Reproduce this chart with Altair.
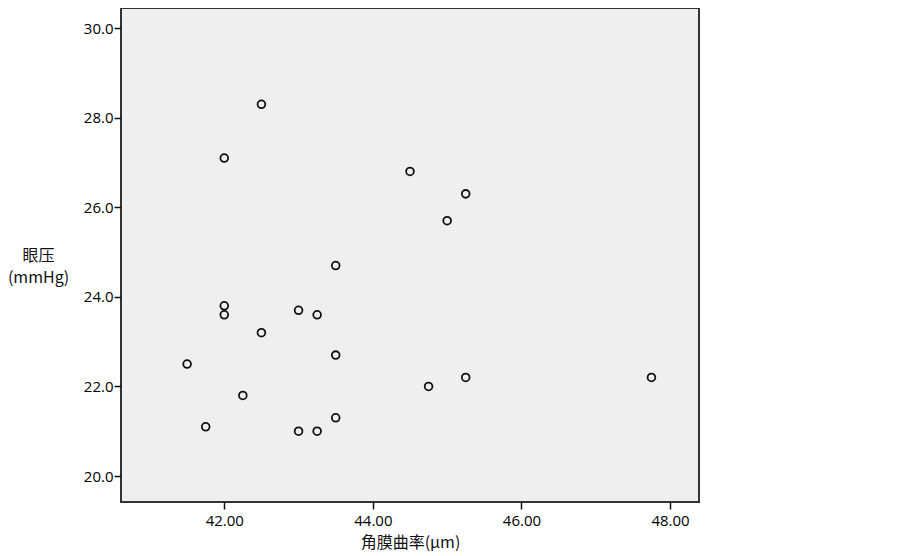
import altair as alt
import pandas as pd

curvature = [42.5, 42.0, 44.5, 45.25, 45.0, 43.5, 42.0, 42.0, 43.0, 43.25, 42.5,
             41.5, 43.5, 45.25, 47.75, 44.75, 42.25, 41.75, 43.0, 43.25, 43.5]
iop = [28.3, 27.1, 26.8, 26.3, 25.7, 24.7, 23.8, 23.6, 23.7, 23.6, 23.2,
       22.5, 22.7, 22.2, 22.2, 22.0, 21.8, 21.1, 21.0, 21.0, 21.3]
x_ticks = [42, 44, 46, 48]
y_ticks = [20, 22, 24, 26, 28, 30]

df = pd.DataFrame({"curv": curvature, "iop": iop})

chart = alt.Chart(df).mark_point(
    shape="circle", filled=False, color="#111111", strokeWidth=1.8, size=60, opacity=1
).encode(
    x=alt.X("curv:Q",
            scale=alt.Scale(domain=[40.61, 48.39], nice=False, zero=False),
            axis=alt.Axis(title="角膜曲率(μm)", values=x_ticks, format=".2f",
                          grid=False, domain=False, tickColor="#111111", tickSize=7,
                          tickWidth=1.5, labelPadding=4, labelFontSize=15,
                          labelFont="Open Sans", labelColor="#000000",
                          titleFont="Noto Sans CJK SC", titleFontSize=16,
                          titleFontWeight="normal", titleColor="#111111",
                          titlePadding=6)),
    y=alt.Y("iop:Q",
            scale=alt.Scale(domain=[19.42, 30.45], nice=False, zero=False),
            axis=alt.Axis(title=["眼压", "(mmHg)"], values=y_ticks, format=".1f",
                          grid=False, domain=False, tickColor="#111111", tickSize=7,
                          tickWidth=1.5, labelPadding=1, labelFontSize=15,
                          labelFont="Open Sans", labelColor="#000000",
                          titleFont="Noto Sans CJK SC", titleFontSize=16,
                          titleFontWeight="normal", titleColor="#111111",
                          titleLineHeight=22,
                          titleAngle=0, titleAlign="center", titleBaseline="middle",
                          titleX=-83, titleY=247)),
).properties(
    width=578, height=494,
    padding={"left": 113, "top": 0, "right": 20, "bottom": 50},
    autosize=alt.AutoSizeParams(type="none"),
    background="white",
).configure_view(
    fill="#efefef", stroke="#333333", strokeWidth=2
)

chart.save("out.html", embed_options={"renderer": "svg", "actions": False})
